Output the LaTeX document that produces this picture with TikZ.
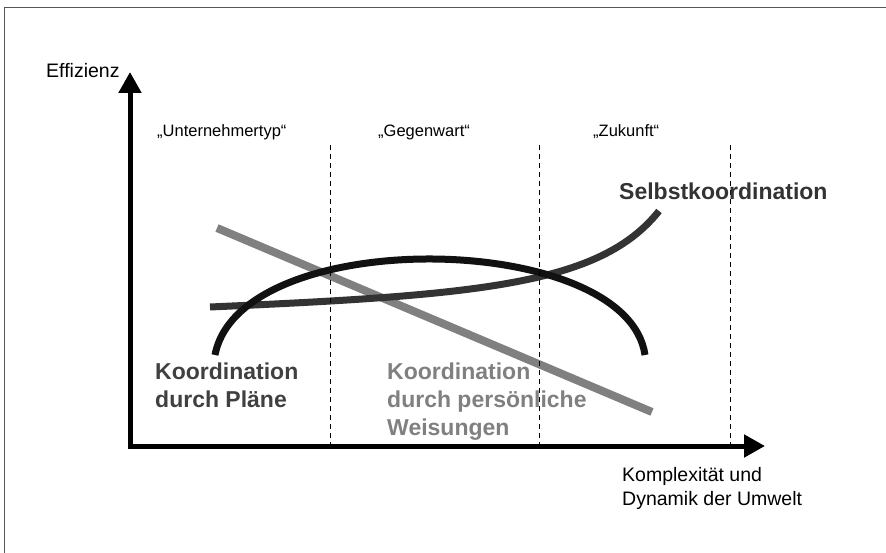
\documentclass[tikz,border=0pt]{standalone}
\usepackage{fontspec}
\setmainfont{Liberation Sans}
\usetikzlibrary{arrows.meta}
\definecolor{framegray}{HTML}{555555}
\definecolor{curvedark}{HTML}{333333}
\definecolor{curveblack}{HTML}{111111}
\definecolor{curvegray}{HTML}{808080}
\definecolor{labeldark}{HTML}{404040}
\begin{document}
\begin{tikzpicture}[x=1pt,y=-1pt,
  divider/.style={line width=1pt,dash pattern=on 5pt off 4pt},
  era/.style={anchor=base west,inner sep=0pt,font=\fontsize{16.5}{20}\selectfont},
  axislabel/.style={anchor=base west,inner sep=0pt,align=left,font=\fontsize{19.5}{24}\selectfont},
  curvelabel/.style={anchor=base west,inner sep=0pt,align=left,font=\fontsize{23}{28}\selectfont\bfseries},
  curve/.style={line width=7pt}]
\useasboundingbox (0,0) rectangle (886,553);
% frame (top and left edge)
\draw[framegray,line width=1.5pt] (4.5,553) -- (4.5,7.5) -- (886,7.5);

% axes
\coordinate (origin) at (130,446);
\coordinate (ytip) at (130,72);
\coordinate (xtip) at (765,446);
\draw[line width=5pt,{Triangle[length=21pt,width=22pt]}-{Triangle[length=21pt,width=22pt]}] (ytip) -- (origin) -- (xtip);

% curves
\coordinate (g0) at (217,228);
\coordinate (g1) at (652,412);
\draw[curvegray,line width=8pt] (g0) -- (g1);

\coordinate (s0) at (210,307);
\coordinate (s1) at (659,211);
\draw[curvedark,curve] (s0) .. controls (480,295) and (600,285) .. (s1);

\coordinate (p0) at (215,355);
\coordinate (p1) at (645,355);
\draw[curveblack,curve] (p0) .. controls (240,224) and (627,230) .. (p1);

% era dividers
\foreach \n/\x in {d1/330,d2/539,d3/730}{
  \coordinate (\n top) at (\x,145);
  \coordinate (\n bot) at (\x,444);
  \draw[divider] (\n top) -- (\n bot);
}

% texts (multi-line nodes are placed by the baseline of their last line)
\node[axislabel] (ylab) at (46,78) {Effizienz};
\node[axislabel] (xlab) at (622,505) {Komplexität und\\Dynamik der Umwelt};
\node[era] (era1) at (157,137) {„Unternehmertyp“};
\node[era] (era2) at (378,137) {„Gegenwart“};
\node[era] (era3) at (593,137) {„Zukunft“};
\node[curvelabel,text=curvedark] (lself) at (619,200) {Selbstkoordination};
\node[curvelabel,text=labeldark] (lplan) at (155,407) {Koordination\\durch Pläne};
\node[curvelabel,text=curvegray] (lpers) at (387,435) {Koordination\\durch persönliche\\Weisungen};
\end{tikzpicture}
\end{document}
